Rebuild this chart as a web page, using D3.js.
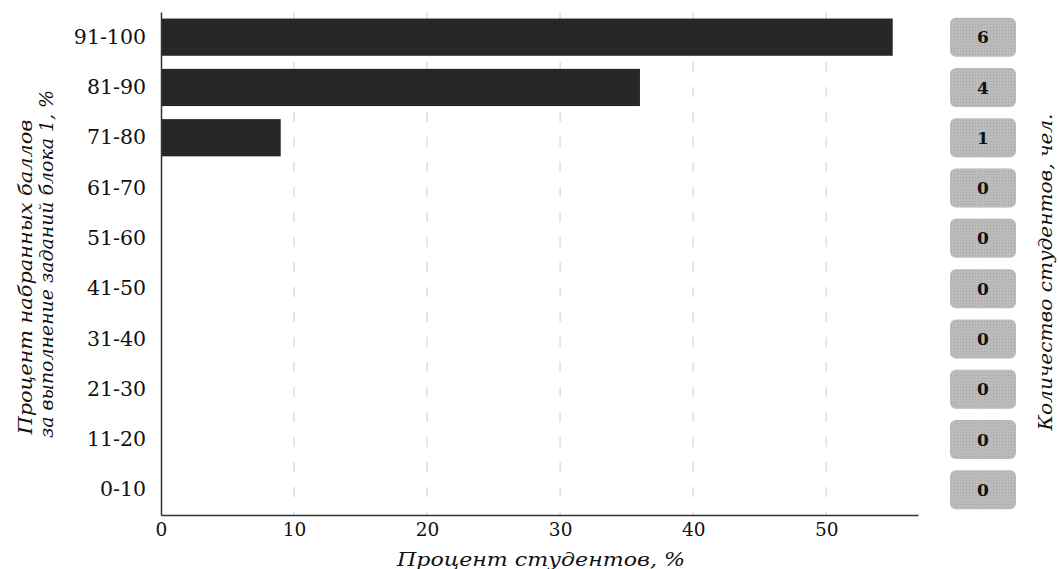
<!DOCTYPE html>
<html><head><meta charset="utf-8">
<script src="https://cdn.jsdelivr.net/npm/d3@7/dist/d3.min.js"></script>
<style>body{margin:0;background:#fff}svg{display:block}</style>
</head><body><svg id="c" width="1058" height="569"></svg>
<script>
const categories = ["91-100","81-90","71-80","61-70","51-60","41-50","31-40","21-30","11-20","0-10"];
const percentValues = [55, 36, 9, 0, 0, 0, 0, 0, 0, 0];
const countValues = [6, 4, 1, 0, 0, 0, 0, 0, 0, 0];
const xTicks = [0, 10, 20, 30, 40, 50];

const svg = d3.select("#c");
const m = {l:161, r:918, t:12, b:515};
const x = d3.scaleLinear().domain([0, 56.9]).range([m.l, m.r]);
const y = d3.scaleBand().domain(categories).range([m.t, m.b]).paddingInner(0.26).paddingOuter(0.13);
const font = "DejaVu Serif";

const defs = svg.append("defs");
const pat = defs.append("pattern").attr("id","tex").attr("width",2).attr("height",2).attr("patternUnits","userSpaceOnUse");
pat.append("rect").attr("width",2).attr("height",2).attr("fill","#232323");
pat.append("rect").attr("width",1).attr("height",1).attr("fill","#333");
const pat2 = defs.append("pattern").attr("id","tex2").attr("width",3).attr("height",3).attr("patternUnits","userSpaceOnUse");
pat2.append("rect").attr("width",3).attr("height",3).attr("fill","#bbbbbb");
pat2.append("rect").attr("width",1).attr("height",1).attr("fill","#a6a6a6");

// gridlines
svg.append("g").selectAll("line").data(xTicks.filter(d=>d>0)).join("line")
  .attr("x1",d=>x(d)).attr("x2",d=>x(d)).attr("y1",m.t).attr("y2",m.b)
  .attr("stroke","#dedede").attr("stroke-width",1.5).attr("stroke-dasharray","10,15");

// bars
svg.append("g").selectAll("rect").data(categories).join("rect")
  .attr("x",x(0)).attr("y",d=>y(d)).attr("height",y.bandwidth())
  .attr("width",(d,i)=>x(percentValues[i])-x(0))
  .attr("fill","url(#tex)");

// axes
const xa = svg.append("g").attr("transform",`translate(0,${m.b})`)
  .call(d3.axisBottom(x).tickValues(xTicks).tickSize(0).tickPadding(8));
xa.select(".domain").attr("stroke","#333").attr("stroke-width",1.5);
xa.selectAll("text").attr("font-family",font).attr("font-size",18.5).attr("fill","#111");

const ya = svg.append("g").attr("transform",`translate(${m.l},0)`)
  .call(d3.axisLeft(y).tickSize(0).tickPadding(15));
ya.select(".domain").attr("stroke","#333").attr("stroke-width",1.5);
ya.selectAll("text").attr("font-family",font).attr("font-size",20.5).attr("fill","#111");

// count boxes
const bx = svg.append("g");
bx.selectAll("rect").data(categories).join("rect")
  .attr("x",950).attr("width",66)
  .attr("y",d=>y(d)+y.bandwidth()/2-19.5).attr("height",39)
  .attr("rx",6).attr("fill","url(#tex2)");
bx.selectAll("text").data(categories).join("text")
  .attr("x",983).attr("y",d=>y(d)+y.bandwidth()/2)
  .attr("dy","0.36em").attr("text-anchor","middle")
  .attr("font-family",font).attr("font-weight","bold").attr("font-size",17).attr("fill","#111")
  .text((d,i)=>countValues[i]);

// titles
svg.append("text").attr("x",541).attr("y",566).attr("text-anchor","middle")
  .attr("font-family",font).attr("font-style","italic").attr("font-size",19).attr("fill","#111")
  .attr("textLength",288).attr("lengthAdjust","spacingAndGlyphs")
  .text("Процент студентов, %");
svg.append("text").attr("transform","translate(32,277) rotate(-90)")
  .attr("text-anchor","middle").attr("font-family",font).attr("font-style","italic").attr("font-size",18).attr("fill","#111")
  .attr("textLength",315).attr("lengthAdjust","spacingAndGlyphs")
  .text("Процент набранных баллов");
svg.append("text").attr("transform","translate(53,264) rotate(-90)")
  .attr("text-anchor","middle").attr("font-family",font).attr("font-style","italic").attr("font-size",18).attr("fill","#111")
  .attr("textLength",348).attr("lengthAdjust","spacingAndGlyphs")
  .text("за выполнение заданий блока 1, %");
svg.append("text").attr("transform","translate(1052,272) rotate(-90)")
  .attr("text-anchor","middle").attr("font-family",font).attr("font-style","italic").attr("font-size",18).attr("fill","#111")
  .attr("textLength",317).attr("lengthAdjust","spacingAndGlyphs")
  .text("Количество студентов, чел.");
</script></body></html>
